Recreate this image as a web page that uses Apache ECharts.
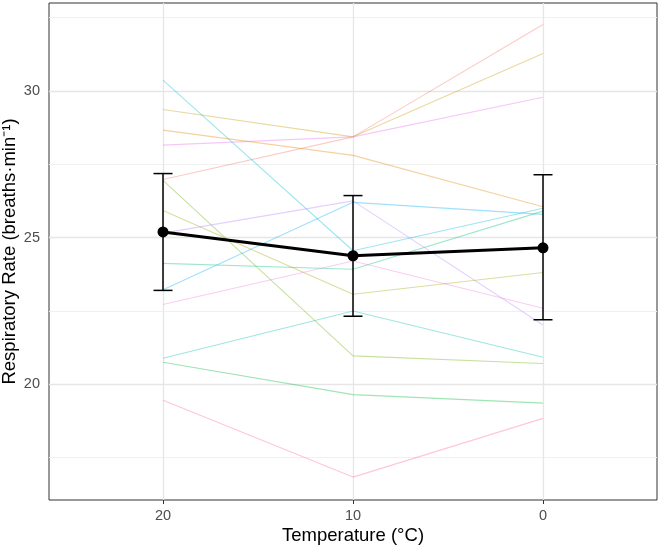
<!DOCTYPE html>
<html>
<head>
<meta charset="utf-8">
<script src="https://cdn.jsdelivr.net/npm/echarts@6/dist/echarts.min.js"></script>
<style>
html,body{margin:0;padding:0;background:#fff;}
#chart{width:661px;height:548px;}
</style>
</head>
<body>
<div id="chart"></div>
<script>
// Category tick labels (temperature, °C) at positions 0,1,2
const tempLabels = ['20', '10', '0'];
const tempPos = [0, 1, 2];

// Individual subjects' respiratory rate at 20, 10, 0 °C
const subjA = [26.98, 28.43, 32.26];
const subjB = [28.66, 27.80, 26.05];
const subjC = [29.36, 28.43, 31.27];
const subjD = [25.92, 23.07, 23.81];
const subjE = [26.95, 20.97, 20.71];
const subjF = [20.75, 19.65, 19.36];
const subjG = [24.12, 23.92, 25.90];
const subjH = [20.89, 22.50, 20.92];
const subjI = [30.36, 24.55, 26.00];
const subjJ = [23.22, 26.20, 25.79];
const subjK = [25.15, 26.25, 22.02];
const subjL = [28.15, 28.43, 29.78];
const subjM = [22.72, 24.20, 22.59];
const subjN = [19.46, 16.84, 18.84];
const subjects = [subjA, subjB, subjC, subjD, subjE, subjF, subjG, subjH, subjI, subjJ, subjK, subjL, subjM, subjN];
const subjColors = ['#F8766D', '#E58700', '#C99800', '#A3A500', '#6BB100', '#00BA38', '#00BF7D',
                    '#00C0AF', '#00BCD8', '#00B0F6', '#B983FF', '#E76BF3', '#F27FD8', '#FF6C91'];

// Group mean and error bar limits
const meanVals = [25.19, 24.38, 24.65];
const errLow = [23.20, 22.32, 22.20];
const errHigh = [27.18, 26.43, 27.14];

// Axis ticks / grid
const yTicks = [20, 25, 30];
const yMinor = [17.5, 22.5, 27.5, 32.5];

const chart = echarts.init(document.getElementById('chart'), null, {renderer: 'canvas'});

const series = [];
// gridlines
series.push({
  type: 'line', data: [], silent: true, z: 1,
  markLine: {
    silent: true, symbol: 'none', animation: false, z: 1,
    label: {show: false},
    data: [
      ...yMinor.map(v => ({yAxis: v, lineStyle: {color: '#f0f0f0', width: 1, type: 'solid'}})),
      ...yTicks.map(v => ({yAxis: v, lineStyle: {color: '#e6e6e6', width: 1.3, type: 'solid'}})),
      ...tempPos.map(v => ({xAxis: v, lineStyle: {color: '#e6e6e6', width: 1.3, type: 'solid'}}))
    ]
  }
});

subjects.forEach((s, i) => {
  series.push({
    type: 'line', z: 2, silent: true, symbol: 'none',
    data: s.map((v, j) => [tempPos[j], v]),
    lineStyle: {color: subjColors[i], width: 1.1, opacity: 0.38},
    animation: false
  });
});

// error bars
series.push({
  type: 'custom', z: 3, silent: true, animation: false,
  data: tempPos.map((p, j) => [p, errLow[j], errHigh[j]]),
  renderItem: function (params, api) {
    const x = api.value(0);
    const lo = api.coord([x, api.value(1)]);
    const hi = api.coord([x, api.value(2)]);
    const capL = api.coord([x - 0.05, api.value(1)])[0];
    const capR = api.coord([x + 0.05, api.value(1)])[0];
    const st = {stroke: '#000', lineWidth: 1.5};
    return {
      type: 'group',
      children: [
        {type: 'line', shape: {x1: lo[0], y1: lo[1], x2: hi[0], y2: hi[1]}, style: st},
        {type: 'line', shape: {x1: capL, y1: lo[1], x2: capR, y2: lo[1]}, style: st},
        {type: 'line', shape: {x1: capL, y1: hi[1], x2: capR, y2: hi[1]}, style: st}
      ]
    };
  }
});

// mean line
series.push({
  type: 'line', z: 4, silent: true, animation: false,
  data: meanVals.map((v, j) => [tempPos[j], v]),
  symbol: 'circle', symbolSize: 11,
  itemStyle: {color: '#000'},
  lineStyle: {color: '#000', width: 3}
});

const fontFam = 'Liberation Sans, Arial, sans-serif';

chart.setOption({
  animation: false,
  backgroundColor: '#fff',
  grid: {left: 49, right: 4, top: 3, bottom: 48, containLabel: false, outerBoundsMode: 'none',
         show: true, borderColor: '#333333', borderWidth: 1, backgroundColor: '#fff'},
  xAxis: {
    type: 'value', min: -0.6, max: 2.6,
    name: 'Temperature (°C)', nameLocation: 'middle', nameGap: 26, nameMoveOverlap: false,
    nameTextStyle: {color: '#000', fontSize: 18.5, fontFamily: fontFam},
    axisLine: {show: false},
    splitLine: {show: false},
    axisTick: {show: true, length: 4, customValues: tempPos, lineStyle: {color: '#333', width: 1}},
    axisLabel: {customValues: tempPos, color: '#4d4d4d', fontSize: 14.5, fontFamily: fontFam, margin: 8,
      formatter: v => tempLabels[Math.round(v)]}
  },
  yAxis: {
    type: 'value', min: 16.06, max: 32.99,
    name: 'Respiratory Rate (breaths·min⁻¹)', nameLocation: 'middle', nameGap: 30, nameMoveOverlap: false,
    nameTextStyle: {color: '#000', fontSize: 18.5, fontFamily: fontFam},
    axisLine: {show: false},
    splitLine: {show: false},
    axisTick: {show: true, length: 4, customValues: yTicks, lineStyle: {color: '#333', width: 1}},
    axisLabel: {customValues: yTicks, color: '#4d4d4d', fontSize: 14.5, fontFamily: fontFam, margin: 9}
  },
  series: series
});
</script>
</body>
</html>
